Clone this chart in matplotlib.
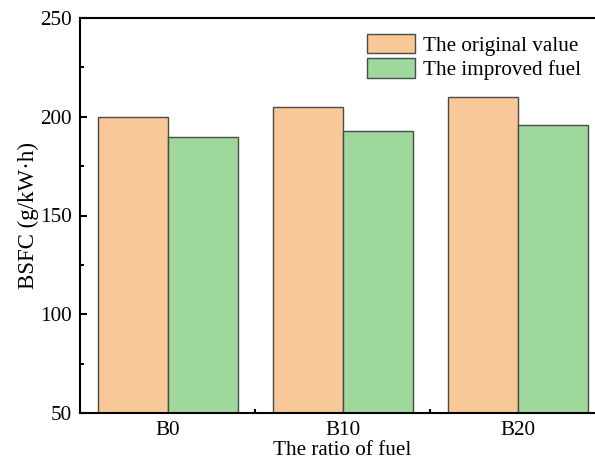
import matplotlib
matplotlib.use("Agg")
import matplotlib.pyplot as plt
import numpy as np

# data
categories = ["B0", "B10", "B20"]
original_value = [200, 205, 210]
improved_fuel = [190, 193, 196]
series_labels = ["The original value", "The improved fuel"]

FS = 15.2
plt.rcParams["font.family"] = ["Liberation Serif", "DejaVu Serif"]
plt.rcParams["font.size"] = FS

fig = plt.figure(figsize=(5.95, 4.59), dpi=100)
# the right spine is cut off in the reference, so the axes runs past the edge
ax = fig.add_axes([80 / 595, 46 / 459, 525 / 595, 395 / 459])

x = np.arange(len(categories))
w = 0.4
ax.bar(x - w / 2, original_value, w, color="#F9C897", edgecolor="#4a4a4a",
       linewidth=1.0, label=series_labels[0], zorder=2)
ax.bar(x + w / 2, improved_fuel, w, color="#9ED99B", edgecolor="#4a4a4a",
       linewidth=1.0, label=series_labels[1], zorder=2)

ax.set_xlim(-0.5, 2.5)
ax.set_ylim(50, 250)
ax.set_yticks([50, 100, 150, 200, 250])
ax.set_yticks([75, 125, 175, 225], minor=True)
ax.set_xticks(x)
ax.set_xticklabels(categories)
ax.set_xticks([0.5, 1.5], minor=True)

for s in ax.spines.values():
    s.set_linewidth(1.5)
ax.spines["right"].set_visible(False)

ax.tick_params(axis="y", which="major", direction="in", length=5, width=1.5, pad=6)
ax.tick_params(axis="y", which="minor", direction="in", length=3, width=1.5)
ax.tick_params(axis="x", which="major", direction="in", length=3, width=1.5, pad=6)
ax.tick_params(axis="x", which="minor", direction="in", length=3, width=1.5)

ax.set_ylabel("BSFC (g/kW·h)", fontsize=16.5)
ax.set_xlabel("The ratio of fuel")
ax.yaxis.set_label_coords(-0.078, 0.5)
ax.xaxis.set_label_coords(0.5, -0.072)

fs = FS * 100 / 72
ax.legend(loc="upper left", bbox_to_anchor=(367 / 595, 1 - 34 / 459),
          bbox_transform=fig.transFigure, frameon=False, borderpad=0,
          borderaxespad=0, handlelength=48 / fs, handleheight=22 / fs,
          handletextpad=8 / fs, labelspacing=0.12, fontsize=FS)

fig.savefig("out.png", dpi=100)
